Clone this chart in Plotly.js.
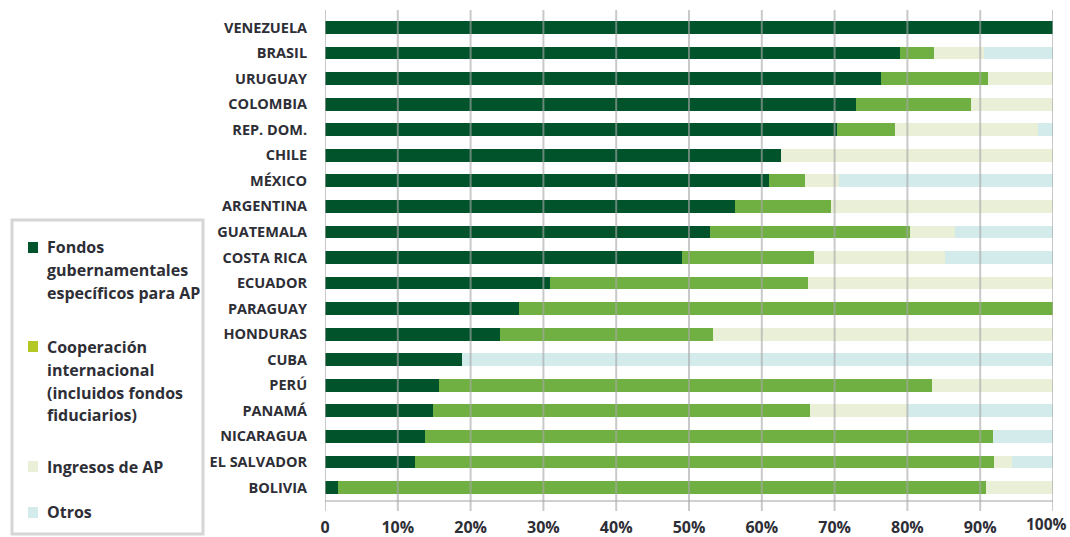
<!DOCTYPE html>
<html>
<head>
<meta charset="utf-8">
<script src="https://cdn.plot.ly/plotly-3.0.1.min.js"></script>
<style>
html,body{margin:0;padding:0;background:#fff;}
#chart{width:1070px;height:537px;}
</style>
</head>
<body>
<div id="chart"></div>
<script>
// Data (top to bottom)
const countries = ["VENEZUELA","BRASIL","URUGUAY","COLOMBIA","REP. DOM.","CHILE","MÉXICO","ARGENTINA","GUATEMALA","COSTA RICA","ECUADOR","PARAGUAY","HONDURAS","CUBA","PERÚ","PANAMÁ","NICARAGUA","EL SALVADOR","BOLIVIA"];
const fondosGub   = [100, 79.0, 76.4, 73.0, 70.3, 62.7, 61.0, 56.3, 52.9, 49.1, 30.9, 26.7, 24.1, 18.8, 15.6, 14.9, 13.8, 12.4, 1.8];
const cooperacion = [0, 4.7, 14.7, 15.8, 8.0, 0, 4.9, 13.2, 27.5, 18.1, 35.5, 73.3, 29.2, 0, 67.8, 51.7, 77.9, 79.5, 89.0];
const ingresosAP  = [0, 6.8, 8.9, 11.2, 19.7, 37.3, 4.7, 30.5, 6.2, 18.0, 33.6, 0, 46.7, 0, 16.6, 13.3, 0, 2.4, 9.2];
const otros       = [0, 9.5, 0, 0, 2.0, 0, 29.4, 0, 13.4, 14.8, 0, 0, 0, 81.2, 0, 20.1, 8.3, 5.7, 0];
const xTickVals = [0,10,20,30,40,50,60,70,80,90,100];
const xTickText = ["0","10%","20%","30%","40%","50%","60%","70%","80%","90%","100%"];
const legendItems = [
  {lines:["Fondos","gubernamentales","específicos para AP"]},
  {lines:["Cooperación","internacional","(incluidos fondos","fiduciarios)"]},
  {lines:["Ingresos de AP"]},
  {lines:["Otros"]}
];

const barColors = ["#00532b","#70b043","#eaefd8","#d3ebea"];
const swatchColors = ["#00532b","#b4c825","#eaefd8","#d3ebea"];
const seriesNames = ["Fondos gubernamentales específicos para AP","Cooperación internacional (incluidos fondos fiduciarios)","Ingresos de AP","Otros"];
const seriesVals = [fondosGub, cooperacion, ingresosAP, otros];

const traces = seriesVals.map((v,i)=>({
  type:'bar', orientation:'h', y:countries, x:v, name:seriesNames[i],
  marker:{color:barColors[i], line:{width:0}}, showlegend:false, hoverinfo:'x+y'
}));

// geometry helpers (pixel -> paper)
const L=325, R=1053, T=10, B=500;
const W=R-L, H=B-T;
const px=(x)=>(x-L)/W;
const py=(y)=>(B-y)/H;

const shapes=[];
// gridlines above bars
xTickVals.forEach(v=>{
  shapes.push({type:'line', xref:'x', yref:'paper', x0:v, x1:v, y0:py(511), y1:1,
    line:{color:'rgba(168,168,168,0.62)', width:2}, layer:'above'});
});
// legend box
shapes.push({type:'rect', xref:'paper', yref:'paper', x0:px(12), x1:px(203), y0:py(534), y1:py(220),
  line:{color:'#d6d6d6', width:3}, fillcolor:'rgba(0,0,0,0)'});

const swatchTops=[242,341,461,507];
const lineCenters=[[246.5,270,293.3],[346.5,370,392.5,415],[466.5],[511.5]];
const annotations=[];
legendItems.forEach((it,i)=>{
  shapes.push({type:'rect', xref:'paper', yref:'paper', x0:px(28), x1:px(38), y0:py(swatchTops[i]+11), y1:py(swatchTops[i]),
    line:{width:0}, fillcolor:swatchColors[i]});
  it.lines.forEach((t,j)=>{
    annotations.push({xref:'paper', yref:'paper', x:px(45), y:py(lineCenters[i][j]), xanchor:'left', yanchor:'middle',
      text:t, showarrow:false, font:{family:'Open Sans', size:16, color:'#2e2e36', weight:700}});
  });
});
// last x tick label, nudged inward so it stays inside the page
annotations.push({xref:'x', yref:'paper', x:100, y:py(536), xanchor:'right', yanchor:'bottom', xshift:15, borderpad:0,
  text:xTickText[xTickText.length-1], showarrow:false, font:{family:'Open Sans', size:15.5, color:'#2e2e36', weight:700}});

const tickText = xTickText.slice(0,-1).concat([""]);

const layout={
  width:1070, height:537,
  margin:{l:L, r:1070-R, t:T, b:537-B, pad:0},
  barmode:'stack', bargap:0.5,
  paper_bgcolor:'#fff', plot_bgcolor:'#fff',
  font:{family:'Open Sans', color:'#2e2e36'},
  xaxis:{range:[0,100], tickvals:xTickVals, ticktext:tickText, showgrid:false, zeroline:false,
    showline:true, linecolor:'#d0d0d0', linewidth:2,
    ticks:'', ticklabelstandoff:12,
    tickfont:{family:'Open Sans', size:16, color:'#2e2e36', weight:700}, fixedrange:true},
  yaxis:{type:'category', range:[18.49,-0.685], showgrid:false, zeroline:false, showline:false,
    ticks:'outside', ticklen:14, tickcolor:'rgba(0,0,0,0)',
    tickfont:{family:'Open Sans', size:14.5, color:'#2e2e36', weight:700}, fixedrange:true},
  shapes:shapes, annotations:annotations
};

Plotly.newPlot('chart', traces, layout, {displayModeBar:false, staticPlot:true});
</script>
</body>
</html>
